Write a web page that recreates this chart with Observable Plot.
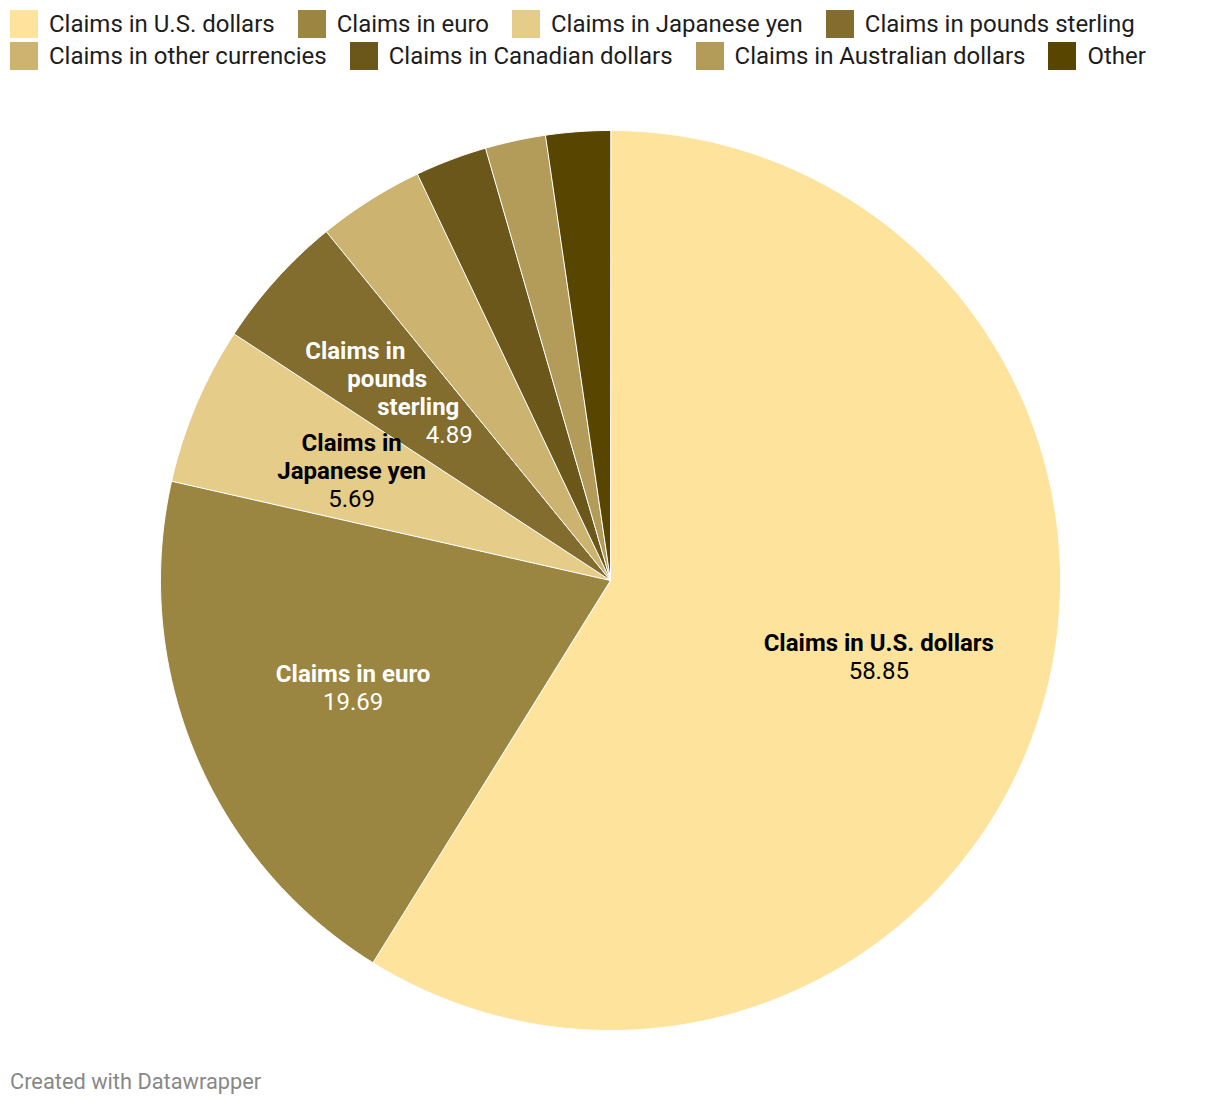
<!DOCTYPE html>
<html>
<head>
<meta charset="utf-8">
<script src="https://cdn.jsdelivr.net/npm/d3@7"></script>
<script src="https://cdn.jsdelivr.net/npm/@observablehq/plot@0.6"></script>
<style>
  html, body { margin: 0; padding: 0; background: #fff; }
  body { width: 1220px; height: 1106px; position: relative; font-family: Roboto, sans-serif; overflow: hidden; }
  #legend { position: absolute; left: 10px; top: 10px; width: 1200px; display: flex; flex-wrap: wrap; row-gap: 4px; column-gap: 23px; }
  .item { display: flex; align-items: center; height: 28px; font-size: 24px; color: #1d1d1d; }
  .sw { width: 28px; height: 28px; margin-right: 11px; flex: none; }
  #chart { position: absolute; left: 0; top: 80px; }
  #footer { position: absolute; left: 10px; top: 1069px; font-size: 21.8px; color: #888; }
</style>
</head>
<body>
<div id="legend"></div>
<div id="chart"></div>
<div id="footer">Created with Datawrapper</div>
<script>
// ---- data ----
const categories = [
  "Claims in U.S. dollars",
  "Claims in euro",
  "Claims in Japanese yen",
  "Claims in pounds sterling",
  "Claims in other currencies",
  "Claims in Canadian dollars",
  "Claims in Australian dollars",
  "Other"
];
const values = [58.85, 19.69, 5.69, 4.89, 3.82, 2.58, 2.17, 2.31];
const colors = ["#fde39b", "#9b8641", "#e5cc88", "#826c2e", "#ccb36f", "#6b5719", "#b39b5a", "#574500"];
const labelLines = [
  ["Claims in U.S. dollars"],
  ["Claims in euro"],
  ["Claims in", "Japanese yen"],
  ["Claims in", "pounds", "sterling"],
  [], [], [], []
];
const valueLabels = ["58.85", "19.69", "5.69", "4.89", "", "", "", ""];

// ---- layout / style ----
const labelColors = ["#000", "#fff", "#000", "#fff"];
const lineShift = [[0, 0], [0, 0], [-2, -2, -2], [-48, -16, 15, 46]];
const lineHeight = 28;

// legend
const legend = d3.select("#legend");
categories.forEach((c, i) => {
  const it = legend.append("div").attr("class", "item");
  it.append("div").attr("class", "sw").style("background", colors[i]);
  it.append("span").text(c);
});

// pie geometry
const pie = d3.pie().sort(null).value(d => d.value)(categories.map((c, i) => ({name: c, value: values[i], i})));
const poly = [];
pie.forEach(p => {
  const steps = Math.max(4, Math.ceil((p.endAngle - p.startAngle) / 0.005));
  poly.push({name: p.data.name, x: 0, y: 0});
  for (let k = 0; k <= steps; k++) {
    const a = p.startAngle + (p.endAngle - p.startAngle) * k / steps;
    poly.push({name: p.data.name, x: Math.sin(a), y: Math.cos(a)});
  }
});
const labelR = 0.62;
const cents = pie.map(p => {
  const a = (p.startAngle + p.endAngle) / 2;
  return {i: p.data.i, x: labelR * Math.sin(a), y: labelR * Math.cos(a)};
});

const marks = [
  Plot.line(poly, {x: "x", y: "y", z: "name", fill: "name", stroke: "#fff", strokeWidth: 1, curve: "linear-closed"})
];
cents.forEach(c => {
  const lines = labelLines[c.i];
  if (!lines.length) return;
  const all = lines.concat([valueLabels[c.i]]);
  const n = all.length;
  all.forEach((t, k) => {
    const shift = (lineShift[c.i] || [])[k] || 0;
    marks.push(Plot.text([c], {
      x: "x", y: "y", text: () => t,
      dx: shift, dy: (k - (n - 1) / 2) * lineHeight,
      fill: labelColors[c.i], fontSize: 24,
      fontWeight: k < n - 1 ? "bold" : "normal",
      fontFamily: "Roboto", textAnchor: "middle"
    }));
  });
});

const chart = Plot.plot({
  width: 1220,
  height: 980,
  margin: 0,
  x: {domain: [-1, 1], range: [160, 1060], axis: null},
  y: {domain: [-1, 1], range: [950, 50], axis: null},
  color: {domain: categories, range: colors},
  style: {background: "transparent", fontFamily: "Roboto"},
  marks
});
document.getElementById("chart").appendChild(chart);
</script>
</body>
</html>
